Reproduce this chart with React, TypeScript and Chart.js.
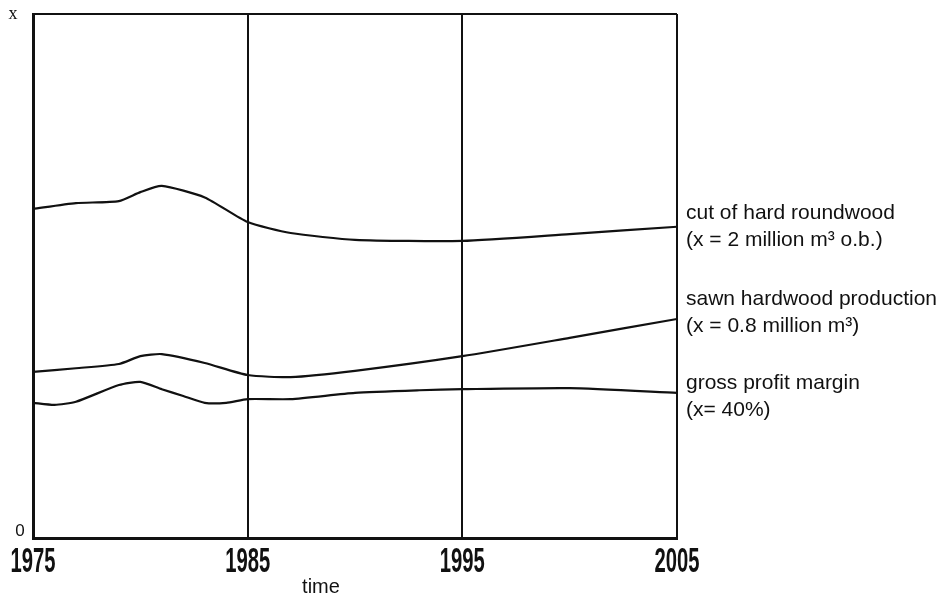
import React, { useEffect, useRef } from "react";
import { Chart, registerables } from "chart.js";

Chart.register(...registerables);

// ---- data (values as a fraction of "x") ----
const cutYears = [1975, 1977, 1979, 1980, 1981, 1983, 1985, 1987, 1990, 1995, 2000, 2005];
const cutValues = [0.628, 0.639, 0.643, 0.66, 0.672, 0.65, 0.603, 0.582, 0.569, 0.567, 0.58, 0.594];

const sawnYears = [1975, 1977, 1979, 1980, 1981, 1983, 1985, 1987, 1990, 1995, 2000, 2005];
const sawnValues = [0.317, 0.324, 0.332, 0.347, 0.351, 0.334, 0.311, 0.307, 0.319, 0.347, 0.382, 0.418];

const grossYears = [1975, 1976, 1977, 1979, 1980, 1981, 1982, 1983, 1984, 1985, 1987, 1990, 1993, 1995, 2000, 2005];
const grossValues = [0.258, 0.254, 0.26, 0.292, 0.298, 0.284, 0.271, 0.258, 0.258, 0.265, 0.265, 0.277, 0.282, 0.284, 0.286, 0.277];

const xTickYears = [1975, 1985, 1995, 2005];
const yTickValues = [0, 1];
const yTickLabels = ["0", "x"];
const xAxisTitle = "time";

const seriesLabels = [
  ["cut of hard roundwood", "(x = 2 million m\u00b3 o.b.)"],
  ["sawn hardwood production", "(x = 0.8 million m\u00b3)"],
  ["gross profit margin", "(x= 40%)"],
];

const toPoints = (xs: number[], ys: number[]) => xs.map((x, i) => ({ x, y: ys[i] }));

const textPlugin = {
  id: "textPlugin",
  afterDraw(chart: any) {
    const ctx = chart.ctx as CanvasRenderingContext2D;
    const xs = chart.scales.x;
    const ys = chart.scales.y;
    ctx.save();
    ctx.fillStyle = "#111";
    ctx.textBaseline = "alphabetic";

    // condensed year labels
    ctx.font = 'bold 35px "Liberation Sans Narrow", "Liberation Sans", sans-serif';
    xTickYears.forEach((yr) => {
      const label = String(yr);
      const w = ctx.measureText(label).width;
      const sx = 45 / w;
      const px = xs.getPixelForValue(yr);
      ctx.save();
      ctx.translate(px, 572);
      ctx.scale(sx, 1);
      ctx.textAlign = "center";
      ctx.fillText(label, 0, 0);
      ctx.restore();
    });

    // y labels
    ctx.textAlign = "center";
    ctx.textBaseline = "middle";
    yTickValues.forEach((v, i) => {
      const py = ys.getPixelForValue(v);
      if (yTickLabels[i] === "x") {
        ctx.font = '18px "Liberation Serif", serif';
        ctx.fillText(yTickLabels[i], 13, py);
      } else {
        ctx.font = '17px "Liberation Sans Narrow", "Liberation Sans", sans-serif';
        ctx.fillText(yTickLabels[i], 20, py - 7);
      }
    });

    // axis title
    ctx.textBaseline = "alphabetic";
    ctx.font = '20px "Liberation Sans", Arial, sans-serif';
    ctx.textAlign = "center";
    ctx.fillText(xAxisTitle, 321, 593);

    // series labels
    ctx.textAlign = "left";
    ctx.font = '21px "Liberation Sans", Arial, sans-serif';
    const baselines = [
      [219, 246],
      [305, 332],
      [389, 416],
    ];
    seriesLabels.forEach((lines, i) => {
      lines.forEach((t, j) => ctx.fillText(t, 686, baselines[i][j]));
    });
    ctx.restore();
  },
};

export default function App() {
  const ref = useRef<HTMLCanvasElement | null>(null);
  useEffect(() => {
    if (!ref.current) return;
    const lineStyle = {
      borderColor: "#111",
      borderWidth: 2.2,
      pointRadius: 0,
      fill: false,
      tension: 0.2,
    };
    const chart = new Chart(ref.current, {
      type: "line",
      data: {
        datasets: [
          { label: seriesLabels[0][0], data: toPoints(cutYears, cutValues), ...lineStyle },
          { label: seriesLabels[1][0], data: toPoints(sawnYears, sawnValues), ...lineStyle },
          { label: seriesLabels[2][0], data: toPoints(grossYears, grossValues), ...lineStyle },
        ],
      },
      options: {
        animation: false,
        responsive: false,
        maintainAspectRatio: false,
        layout: { padding: { left: 33, top: 14, right: 274, bottom: 60 } },
        plugins: { legend: { display: false }, tooltip: { enabled: false } },
        scales: {
          x: {
            type: "linear",
            min: 1975,
            max: 2005,
            ticks: { display: false, stepSize: 10 },
            grid: { color: "#111", lineWidth: 2, drawTicks: false },
            border: { display: true, color: "#111", width: 3 },
          },
          y: {
            type: "linear",
            min: 0,
            max: 1,
            ticks: { display: false, stepSize: 1 },
            grid: { color: "#111", lineWidth: 2, drawTicks: false },
            border: { display: true, color: "#111", width: 3 },
          },
        },
      },
      plugins: [textPlugin],
    });
    return () => chart.destroy();
  }, []);
  return (
    <div style={{ position: "fixed", left: 0, top: 0, width: 951, height: 598, background: "#fff" }}>
      <canvas ref={ref} width={951} height={598} style={{ width: 951, height: 598 }} />
    </div>
  );
}
